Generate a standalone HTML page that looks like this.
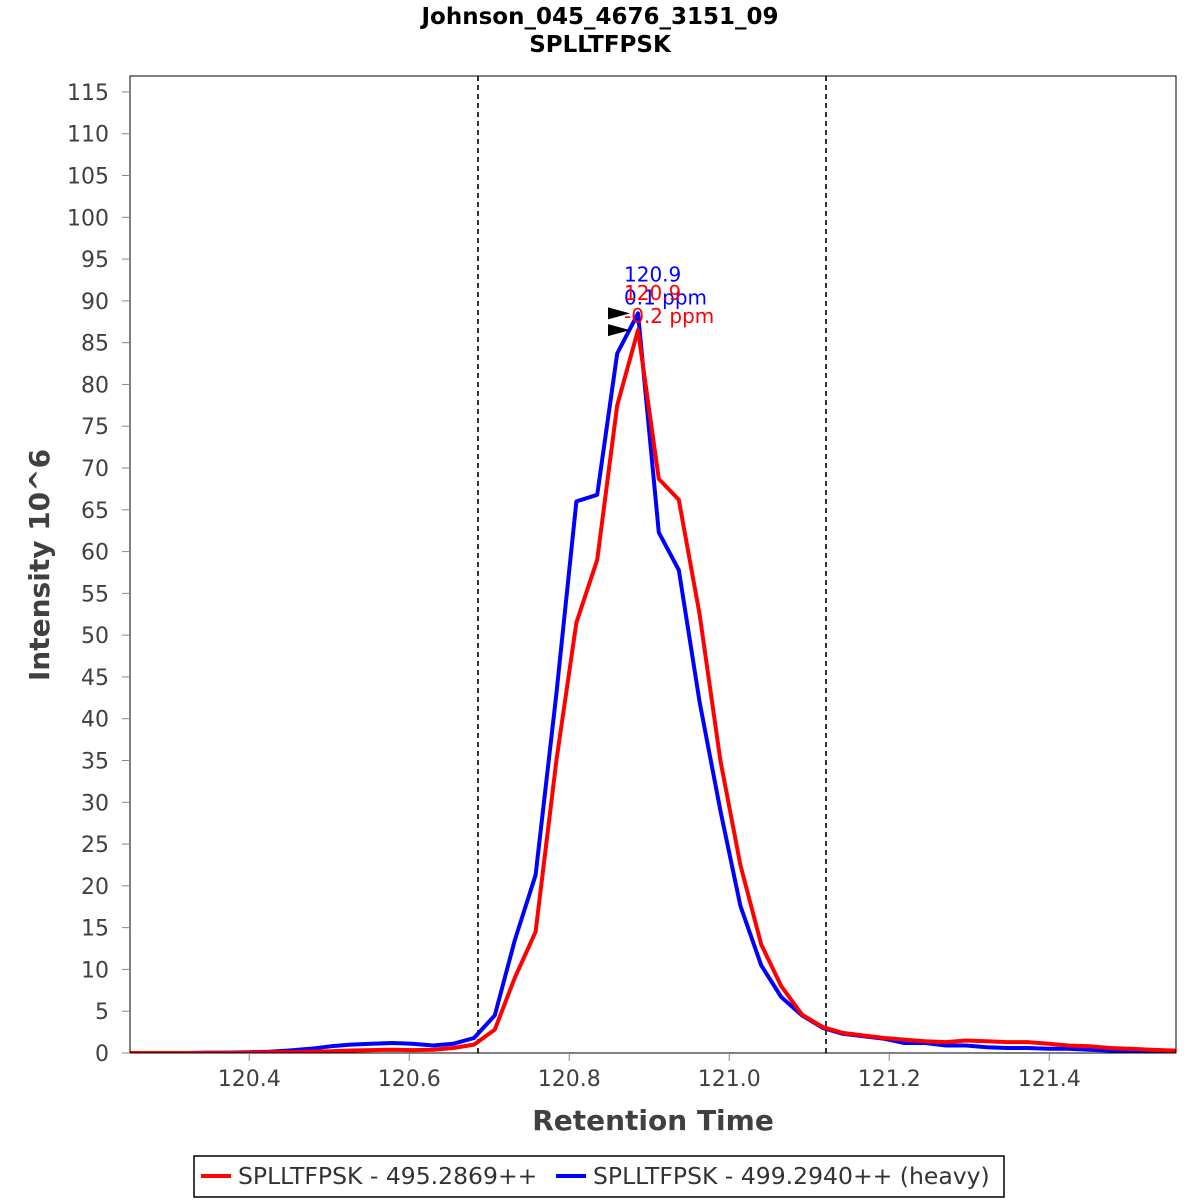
<!DOCTYPE html>
<html><head><meta charset="utf-8"><style>
body{margin:0;background:#fff;font-family:"Liberation Sans","DejaVu Sans",sans-serif}
</style></head><body>
<svg id="chart" width="1200" height="1200" xmlns="http://www.w3.org/2000/svg" style="display:block;font-family:'DejaVu Sans','Liberation Sans',sans-serif">
<rect width="1200" height="1200" fill="#fff"/>
<text x="600" y="24" text-anchor="middle" font-size="23" font-weight="bold">Johnson_045_4676_3151_09</text>
<text x="600" y="52" text-anchor="middle" font-size="23" font-weight="bold">SPLLTFPSK</text>
<defs><clipPath id="pc"><rect x="130" y="76" width="1046" height="977"/></clipPath></defs>
<g id="grid"></g>
<g id="series" clip-path="url(#pc)"></g>
<rect x="130" y="76" width="1046" height="977" fill="none" stroke="#000" stroke-width="1"/>
<g id="axes"></g>
<text x="653" y="1130" text-anchor="middle" font-size="28" font-weight="bold" fill="#404040">Retention Time</text>
<text transform="translate(49,565) rotate(-90)" text-anchor="middle" font-size="28" font-weight="bold" fill="#404040">Intensity 10^6</text>
<g>
<rect x="194" y="1156" width="810" height="41" fill="#fff" stroke="#000" stroke-width="1.5"/>
<line x1="201" y1="1176" x2="231" y2="1176" stroke="#ff0000" stroke-width="4"/>
<text x="238" y="1184" font-size="23.5" fill="#333">SPLLTFPSK - 495.2869++</text>
<line x1="556" y1="1176" x2="586" y2="1176" stroke="#0000ff" stroke-width="4"/>
<text x="593" y="1184" font-size="23.5" fill="#333">SPLLTFPSK - 499.2940++ (heavy)</text>
</g>
</svg>
<script>
const times=[120.245,120.271,120.297,120.322,120.348,120.374,120.399,120.425,120.450,120.476,120.502,120.527,120.553,120.579,120.604,120.630,120.655,120.681,120.707,120.732,120.758,120.784,120.809,120.835,120.860,120.886,120.912,120.937,120.963,120.989,121.014,121.040,121.065,121.091,121.117,121.142,121.168,121.194,121.219,121.245,121.271,121.296,121.322,121.347,121.373,121.399,121.424,121.450,121.476,121.501,121.527,121.553,121.578];
const lightValues=[0,0,0,0,0,0,0.05,0.1,0.1,0.15,0.2,0.3,0.35,0.4,0.35,0.4,0.6,1.0,2.8,9.0,14.5,35,51.5,59,77.5,86.5,68.7,66.2,52.5,35,22.5,13,8,4.6,3.1,2.4,2.1,1.8,1.6,1.4,1.3,1.5,1.4,1.3,1.3,1.1,0.9,0.8,0.6,0.5,0.4,0.3,0.2];
const heavyValues=[0,0,0,0,0.05,0.05,0.1,0.15,0.3,0.5,0.8,1.0,1.1,1.2,1.1,0.9,1.1,1.8,4.5,13.5,21.3,43,66,66.8,83.7,88.5,62.3,57.8,42,29,17.6,10.5,6.7,4.5,3.0,2.3,2.0,1.7,1.2,1.2,0.9,0.9,0.7,0.6,0.6,0.5,0.5,0.4,0.3,0.3,0.2,0.2,0.2];
const yTicks=[0,5,10,15,20,25,30,35,40,45,50,55,60,65,70,75,80,85,90,95,100,105,110,115];
const xTicks=[120.4,120.6,120.8,121.0,121.2,121.4];
const boundaries=[120.686,121.121];
const ns="http://www.w3.org/2000/svg";
const X=t=>130+(t-120.251)*800;
const Y=v=>1053-v*8.357;
function mk(tag,attrs,parent){const e=document.createElementNS(ns,tag);for(const k in attrs)e.setAttribute(k,attrs[k]);parent.appendChild(e);return e;}
const axes=document.getElementById('axes'),grid=document.getElementById('grid'),series=document.getElementById('series');
yTicks.forEach(v=>{
 const l=mk('line',{x1:122,x2:130,y1:Y(v),y2:Y(v),stroke:'#888'},axes);
 
 
 const t=mk('text',{x:109,y:Y(v)+8,'text-anchor':'end','font-size':22,fill:'#404040'},axes);
 
 
 t.textContent=v;
});
xTicks.forEach(v=>{
 const l=mk('line',{x1:X(v),x2:X(v),y1:1053,y2:1061,stroke:'#888'},axes);
 
 
 const t=mk('text',{x:X(v),y:1086,'text-anchor':'middle','font-size':22,fill:'#404040'},axes);
 
 
 t.textContent=v.toFixed(1);
});
boundaries.forEach(b=>{
 const l=mk('line',{x1:X(b),x2:X(b),y1:76,y2:1053,stroke:'#333','stroke-width':2,'stroke-dasharray':'5,4'},grid);
 
 
});
function line(vals,color,name){
 const p=mk('polyline',{points:vals.map((v,i)=>X(times[i]).toFixed(1)+','+Y(v).toFixed(1)).join(' '),fill:'none',stroke:color,'stroke-width':4,'stroke-linejoin':'round'},series);
 
 
}
line(heavyValues,'#0000ff','heavy-series-line');
line(lightValues,'#ff0000','light-series-line');
function annot(vals,color,nameTop,label2,dy){
 let mi=0;vals.forEach((v,i)=>{if(v>vals[mi])mi=i;});
 const px=X(times[mi]),py=Y(vals[mi]);
 const a=mk('polygon',{points:`${px-30},${py-6} ${px-8},${py} ${px-30},${py+6}`,fill:'#000'},axes);
 
 
 const t1=mk('text',{x:px-14,y:py-32+dy,'font-size':20,fill:color},axes);
 
 
 t1.textContent=times[mi].toFixed(1);
 const t2=mk('text',{x:px-14,y:py-9+dy,'font-size':20,fill:color},axes);
 
 
 t2.textContent=label2;
}
annot(heavyValues,'#0000ff','heavy-peak-label','0.1 ppm',0);
annot(lightValues,'#ff0000','light-peak-label','-0.2 ppm',2);
</script>
</body></html>
